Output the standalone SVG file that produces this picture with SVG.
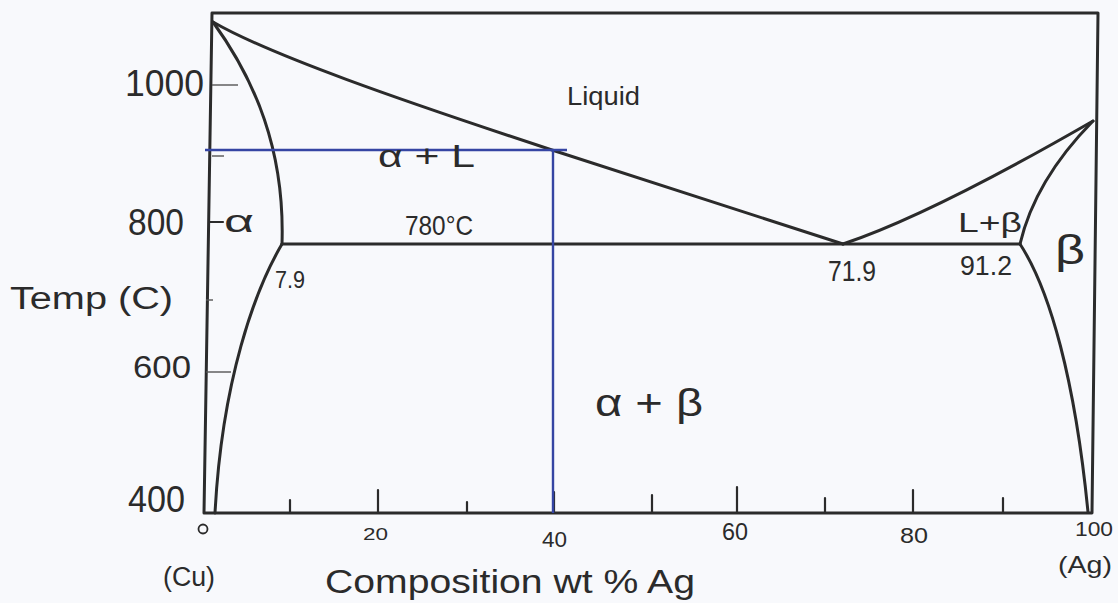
<svg xmlns="http://www.w3.org/2000/svg" width="1118" height="603" viewBox="0 0 1118 603">
  <style>
    .ln{fill:none;stroke:#2b2b2b;stroke-width:3;stroke-linecap:round;stroke-linejoin:round}
    .tk{fill:none;stroke:#2b2b2b;stroke-width:2.2;stroke-linecap:round}
    .tkt{fill:none;stroke:#555;stroke-width:1.4}
    .bl{fill:none;stroke:#3545a3;stroke-width:2.4}
    .t{font-family:"Liberation Sans","DejaVu Sans",sans-serif;fill:#2b2b2b}
  </style>
  <rect width="1118" height="603" fill="#f8f9fc"/>

  <g id="frame">
    <path class="ln" d="M212,13 L1098,13 L1092,513 L204,513 Z"/>
  </g>

  <g id="y-axis-ticks">
    <line class="tkt" x1="212" y1="85" x2="238" y2="85"/>
    <line class="tkt" x1="212" y1="156" x2="224" y2="156"/>
    <line class="tk" x1="210" y1="222" x2="223" y2="222"/>
    <line class="tkt" x1="206" y1="300" x2="213" y2="300"/>
    <line class="tkt" x1="206" y1="372" x2="231" y2="372"/>
  </g>

  <g id="x-axis-ticks">
    <line class="tk" x1="290" y1="513" x2="290" y2="500"/>
    <line class="tk" x1="378" y1="513" x2="378" y2="490"/>
    <line class="tk" x1="467" y1="513" x2="467" y2="502"/>
    <line class="tk" x1="554" y1="513" x2="554" y2="492"/>
    <line class="tk" x1="652" y1="513" x2="652" y2="495"/>
    <line class="tk" x1="737" y1="513" x2="737" y2="487"/>
    <line class="tk" x1="825" y1="513" x2="825" y2="498"/>
    <line class="tk" x1="913" y1="513" x2="913" y2="490"/>
    <line class="tk" x1="1003" y1="513" x2="1003" y2="498"/>
  </g>

  <g id="phase-boundaries">
    <path id="liquidus-left" class="ln" d="M213,22 C270,55 400,100 552,150 L843,244"/>
    <path id="liquidus-right" class="ln" d="M843,244 Q930,215 1093,121"/>
    <path id="solidus-left" class="ln" d="M213,22 C255,80 285,150 282,244"/>
    <path id="solvus-left" class="ln" d="M282,244 C255,290 222,380 215,513"/>
    <path id="solidus-right" class="ln" d="M1093,121 Q1035,180 1020,244"/>
    <path id="solvus-right" class="ln" d="M1020,244 C1050,290 1075,380 1088,512"/>
    <line id="eutectic" class="ln" x1="282" y1="244" x2="1020" y2="244"/>
  </g>

  <g id="guide-lines">
    <line class="bl" x1="205" y1="150" x2="567" y2="150"/>
    <line class="bl" x1="553" y1="150" x2="553" y2="513"/>
  </g>

  <g id="y-labels">
    <text class="t" x="125" y="96" font-size="36" textLength="79" lengthAdjust="spacingAndGlyphs">1000</text>
    <text class="t" x="128" y="235" font-size="36" textLength="56" lengthAdjust="spacingAndGlyphs">800</text>
    <text class="t" x="133" y="378" font-size="32" textLength="58" lengthAdjust="spacingAndGlyphs">600</text>
    <text class="t" x="128" y="512" font-size="36" textLength="57" lengthAdjust="spacingAndGlyphs">400</text>
    <text class="t" x="10" y="309" font-size="31" textLength="163" lengthAdjust="spacingAndGlyphs">Temp (C)</text>
  </g>

  <g id="x-labels">
    <circle cx="203" cy="529" r="4.5" fill="none" stroke="#2b2b2b" stroke-width="1.8"/>
    <text class="t" x="163" y="586" font-size="27" textLength="52" lengthAdjust="spacingAndGlyphs">(Cu)</text>
    <text class="t" x="363" y="540" font-size="16" textLength="25" lengthAdjust="spacingAndGlyphs">20</text>
    <text class="t" x="542" y="547" font-size="22" textLength="25" lengthAdjust="spacingAndGlyphs">40</text>
    <text class="t" x="722" y="540" font-size="24" textLength="26" lengthAdjust="spacingAndGlyphs">60</text>
    <text class="t" x="900" y="543" font-size="22" textLength="28" lengthAdjust="spacingAndGlyphs">80</text>
    <text class="t" x="1075" y="536" font-size="20" textLength="38" lengthAdjust="spacingAndGlyphs">100</text>
    <text class="t" x="1058" y="573" font-size="24" textLength="54" lengthAdjust="spacingAndGlyphs">(Ag)</text>
    <text class="t" x="325" y="593" font-size="34" textLength="370" lengthAdjust="spacingAndGlyphs">Composition wt % Ag</text>
  </g>

  <g id="region-labels">
    <text class="t" x="567" y="105" font-size="26" textLength="73" lengthAdjust="spacingAndGlyphs">Liquid</text>
    <text class="t" x="378" y="167" font-size="32" textLength="97" lengthAdjust="spacingAndGlyphs">α + L</text>
    <text class="t" x="405" y="235" font-size="28" textLength="68" lengthAdjust="spacingAndGlyphs">780°C</text>
    <text class="t" x="224" y="232" font-size="32" textLength="30" lengthAdjust="spacingAndGlyphs">α</text>
    <text class="t" x="275" y="288" font-size="24" textLength="30" lengthAdjust="spacingAndGlyphs">7.9</text>
    <text class="t" x="828" y="281" font-size="30" textLength="48" lengthAdjust="spacingAndGlyphs">71.9</text>
    <text class="t" x="960" y="275" font-size="28" textLength="52" lengthAdjust="spacingAndGlyphs">91.2</text>
    <text class="t" x="958" y="232" font-size="28" textLength="64" lengthAdjust="spacingAndGlyphs">L+β</text>
    <text class="t" x="1055" y="264" font-size="40" textLength="30" lengthAdjust="spacingAndGlyphs">β</text>
    <text class="t" x="595" y="416" font-size="38" textLength="108" lengthAdjust="spacingAndGlyphs">α + β</text>
  </g>
</svg>
